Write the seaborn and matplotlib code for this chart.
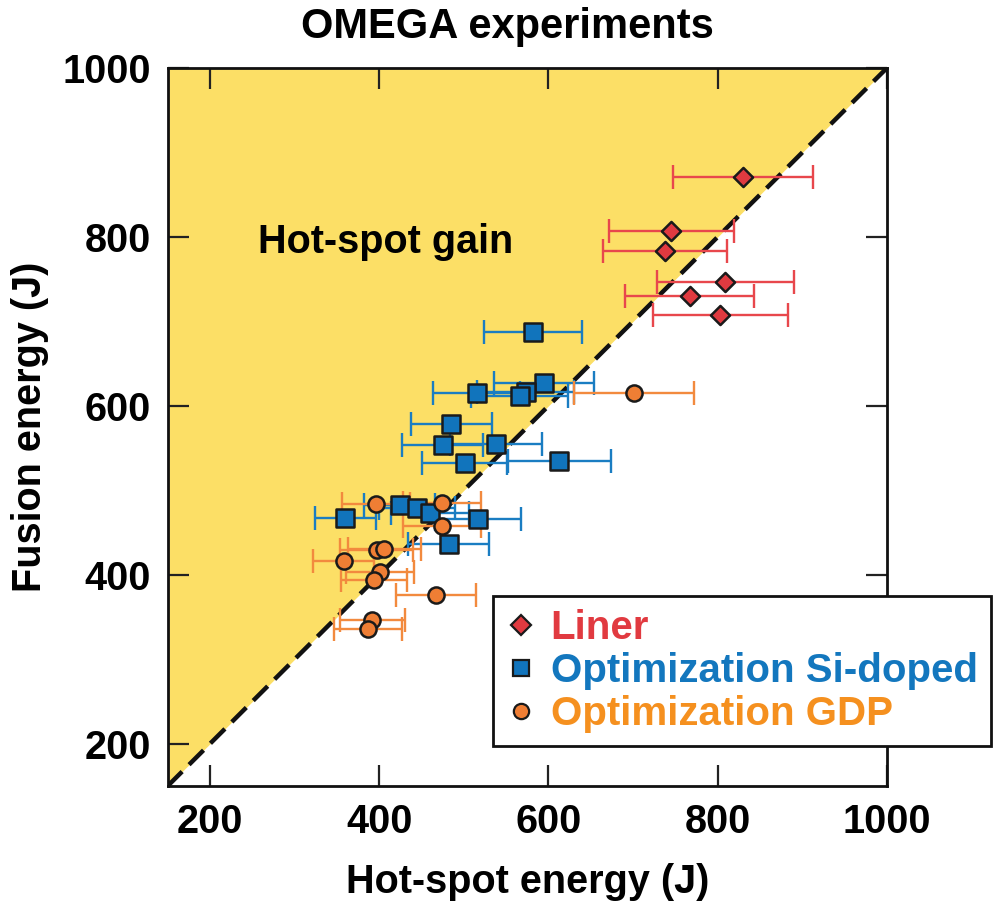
import matplotlib
matplotlib.use("Agg")
import matplotlib.pyplot as plt
import pandas as pd
import seaborn as sns
from matplotlib.lines import Line2D

# Liner shots
liner_hot = [830, 745, 738, 809, 767, 803]
liner_fus = [871, 807, 783, 747, 730, 707]
liner_err = [83, 74, 73, 81, 76, 80]

# Optimization shots, Si-doped ablator
si_hot = [582, 595, 573, 566, 515, 485, 475, 538, 501, 613, 360, 424, 445, 460, 517, 482]
si_fus = [687, 627, 616, 612, 615, 579, 554, 555, 532, 535, 467, 483, 479, 473, 466, 436]
si_err = [58, 59, 57, 57, 51, 48, 48, 54, 50, 61, 36, 42, 45, 46, 51, 48]

# Optimization shots, GDP ablator
gdp_hot = [396, 474, 474, 397, 406, 358, 401, 394, 467, 392, 387, 701]
gdp_fus = [484, 485, 458, 429, 430, 416, 403, 394, 376, 347, 336, 615]
gdp_err = [40, 46, 46, 43, 43, 36, 40, 39, 47, 38, 40, 71]

series_names = ["Liner", "Optimization Si-doped", "Optimization GDP"]

RED, BLUE, ORANGE = "#E03A40", "#1174BC", "#EF7E34"
RED_BAR, BLUE_BAR, ORANGE_BAR = "#E8474C", "#1A7DC2", "#F28A3E"
TEXT_COLORS = ["#E13A40", "#1377BE", "#F5901F"]
EDGE = "#1a1a1a"
GAIN_FILL = "#FCDF66"
INK = "#000000"

sns.set_theme(style="ticks")
plt.rcParams["font.family"] = ["Liberation Sans", "DejaVu Sans"]
plt.rcParams["font.weight"] = "bold"
plt.rcParams["text.color"] = INK
plt.rcParams["axes.labelcolor"] = INK
plt.rcParams["xtick.color"] = INK
plt.rcParams["ytick.color"] = INK
FS = 28.5

fig = plt.figure(figsize=(9.98, 9.09), dpi=100)
ax = fig.add_axes([0.168, 0.1353, 0.7207, 0.7899])

lo, hi = 150, 1000
ax.set_xlim(lo, hi)
ax.set_ylim(lo, hi)

# region where fusion energy exceeds hot-spot energy
ax.fill_between([lo, hi], [lo, hi], [hi, hi], color=GAIN_FILL, lw=0, zorder=0)
ax.plot([lo, hi], [lo, hi], color="#111111", lw=3.2, dashes=(4.6, 2.2),
        zorder=1, solid_capstyle="butt", dash_capstyle="butt")

groups = [
    (liner_hot, liner_fus, liner_err, RED, RED_BAR, "D", 95),
    (si_hot, si_fus, si_err, BLUE, BLUE_BAR, "s", 150),
    (gdp_hot, gdp_fus, gdp_err, ORANGE, ORANGE_BAR, "o", 135),
]

for hot, fus, err, _, bar, _, _ in groups:
    ax.errorbar(hot, fus, xerr=err, fmt="none", ecolor=bar, elinewidth=1.7,
                capsize=8.7, capthick=1.7, zorder=2)

for (hot, fus, err, col, _, mk, size), name in zip(groups, series_names):
    df = pd.DataFrame({"hot": hot, "fusion": fus})
    sns.scatterplot(data=df, x="hot", y="fusion", marker=mk, s=size, color=col,
                    edgecolor=EDGE, linewidth=1.8, ax=ax, zorder=3, legend=False)

ticks = [200, 400, 600, 800, 1000]
ax.set_xticks(ticks)
ax.set_yticks(ticks)
ax.tick_params(direction="in", length=15, width=1.6, color="#222222",
               labelcolor=INK, top=True, right=True, labelsize=FS, pad=12)
for lab in ax.get_xticklabels() + ax.get_yticklabels():
    lab.set_fontweight("bold")
for sp in ax.spines.values():
    sp.set_linewidth(2.0)
    sp.set_color("#111111")

ax.set_xlabel("Hot-spot energy (J)", fontsize=FS, fontweight="bold", labelpad=16)
ax.set_ylabel("Fusion energy (J)", fontsize=FS, fontweight="bold", labelpad=10)

ax.text(257, 781, "Hot-spot gain", fontsize=FS, fontweight="bold",
        va="baseline", ha="left", color=INK)

fig.text(0.508, 1 - 27 / 909, "OMEGA experiments", fontsize=30, fontweight="bold",
         ha="center", va="center", color=INK)

handles = [
    Line2D([], [], ls="none", marker="D", markersize=10.2, mfc=RED, mec=EDGE, mew=1.6),
    Line2D([], [], ls="none", marker="s", markersize=11, mfc=BLUE, mec=EDGE, mew=1.6),
    Line2D([], [], ls="none", marker="o", markersize=11, mfc=ORANGE, mec=EDGE, mew=1.6),
]
leg = ax.legend(handles, series_names, loc="upper left",
                bbox_to_anchor=(493 / 998, 1 - 596 / 909), bbox_transform=fig.transFigure,
                prop=dict(family="Liberation Sans", weight="bold", size=29),
                frameon=True, fancybox=False, framealpha=1, edgecolor="#111111",
                borderpad=0.33, handlelength=0.75, handletextpad=0.35,
                labelspacing=0.12, borderaxespad=0)
leg.get_frame().set_linewidth(2.0)
for t, c in zip(leg.get_texts(), TEXT_COLORS):
    t.set_color(c)

fig.savefig("out.png", dpi=100)
